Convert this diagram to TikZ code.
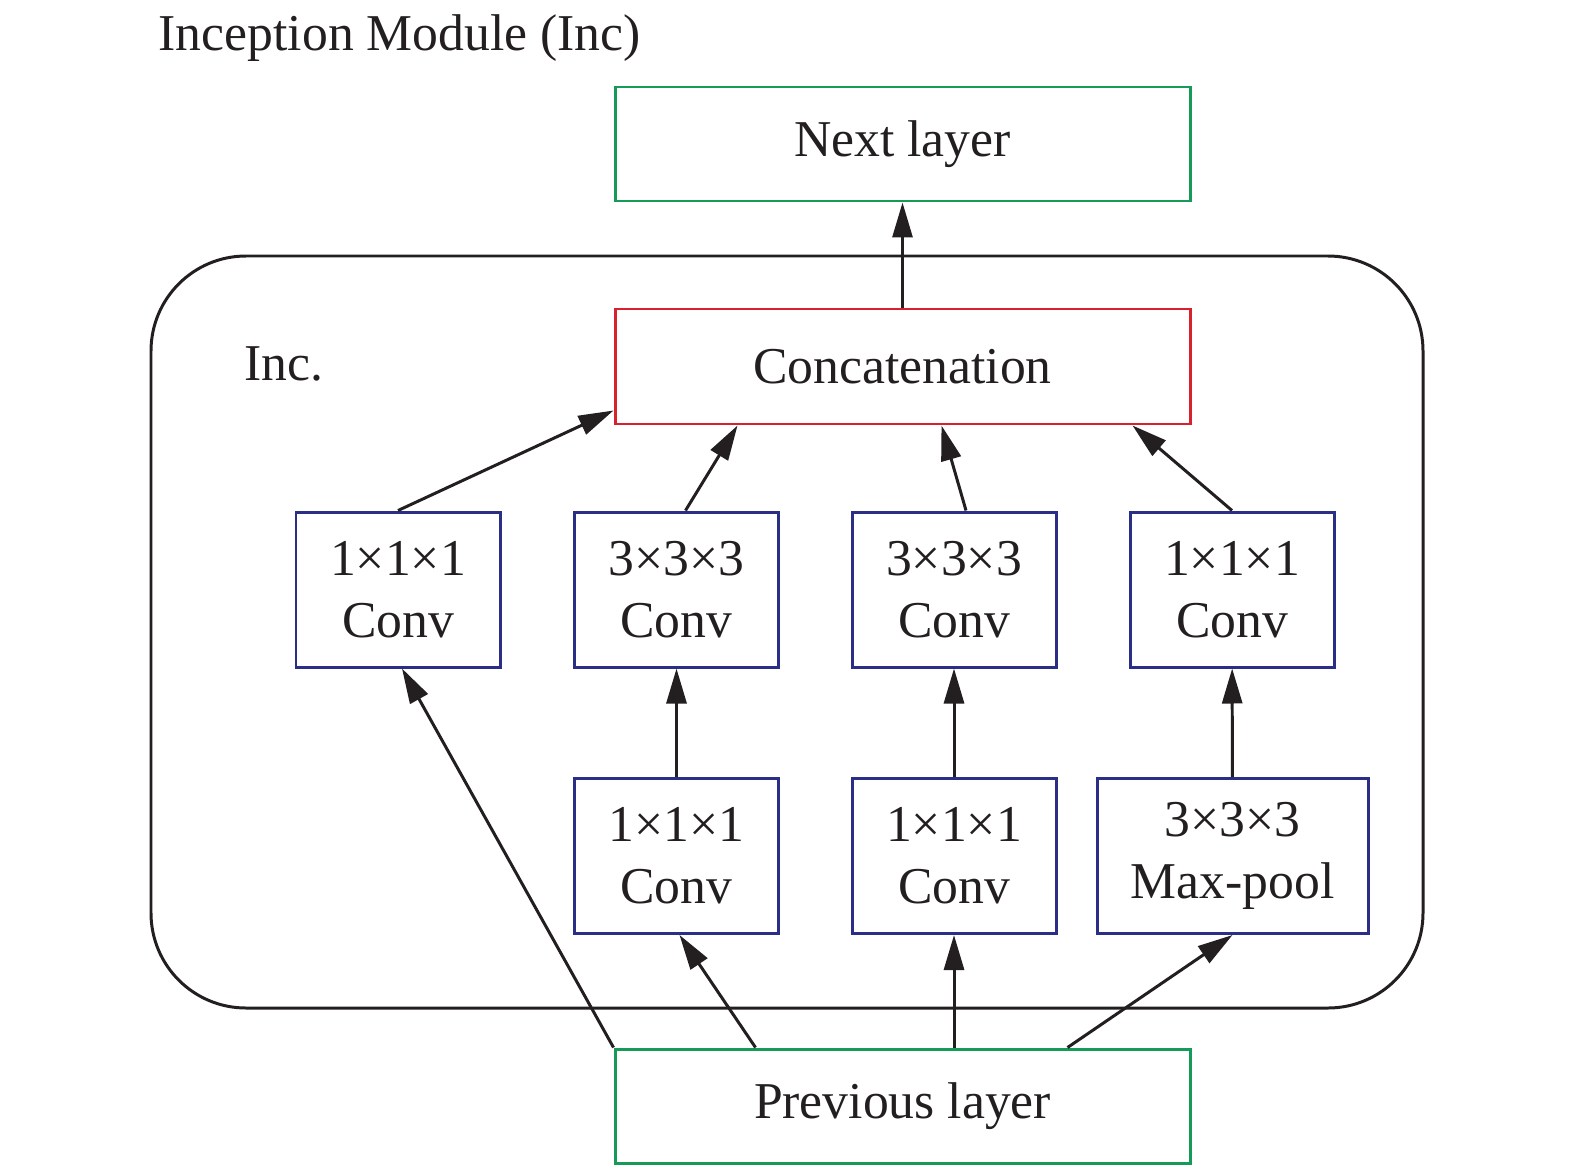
\documentclass[tikz,border=0pt]{standalone}
\usepackage{fontspec}
\setmainfont{Liberation Serif}
\usepackage{tikz}
\usetikzlibrary{arrows.meta,positioning,calc}
\definecolor{IncGreen}{HTML}{159A57}
\definecolor{IncRed}{HTML}{D9212E}
\definecolor{IncBlue}{HTML}{2A2F85}
\definecolor{IncBlack}{HTML}{231F20}
\tikzset{
  layer/.style={draw=IncGreen, line width=0.85pt, align=center,
    minimum width=57.5mm, minimum height=11.4mm, inner sep=0pt},
  concat/.style={draw=IncRed, line width=0.85pt, align=center,
    minimum width=57.5mm, minimum height=11.5mm, inner sep=0pt},
  conv/.style={draw=IncBlue, line width=0.85pt, align=center,
    minimum width=20.4mm, minimum height=15.5mm, inner sep=0pt},
  pool/.style={conv, minimum width=27.1mm},
  module/.style={draw=IncBlack, line width=0.85pt, rounded corners=9.5mm},
  wire/.style={-{Triangle[length=3.5mm, width=2mm]}, line width=0.85pt, draw=IncBlack},
  every node/.style={font=\fontsize{14.7}{17.7}\selectfont, text=IncBlack}
}
\begin{document}
\begin{tikzpicture}[x=0.1mm, y=-0.1mm]
  \useasboundingbox (0,0) rectangle (1575,1168);
  \node[anchor=base west, inner sep=0pt] (title) at (158,50) {Inception Module (Inc)};
  % module frame
  \draw[module] (151,256) rectangle (1423,1008);
  \node[anchor=west, inner sep=0pt] (inc) at (244,364) {Inc.};
  % layers
  \node[layer] (next) at (902.5,144) {Next layer};
  \node[concat] (cat) at (902.5,366.5) {Concatenation};
  \node[layer] (prev) at (902.5,1106) {Previous layer};
  % branches
  \node[conv] (b1) at (398,589.5) {1×1×1\\Conv};
  \node[conv] (b2) at (676.5,589.5) {3×3×3\\Conv};
  \node[conv] (b3) at (954,589.5) {3×3×3\\Conv};
  \node[conv] (b4) at (1232,589.5) {1×1×1\\Conv};
  \node[conv] (r2) at (676.5,856) {1×1×1\\Conv};
  \node[conv] (r3) at (954,856) {1×1×1\\Conv};
  \node[pool] (mp) at (1232.5,856) {3×3×3\\Max-pool};
  % connectors
  \draw[wire] (cat) -- (next);
  \draw[wire] (b1.north) -- ($(cat.south west)+(0,-15)$);
  \draw[wire] ($(b2.north)+(9,0)$) -- ($(cat.south)+(-165,0)$);
  \draw[wire] ($(b3.north)+(12,0)$) -- ($(cat.south)+(39,0)$);
  \draw[wire] (b4.north) -- ($(cat.south)+(230,0)$);
  \draw[wire] (r2) -- (b2);
  \draw[wire] (r3) -- (b3);
  \draw[wire] (mp) -- (b4);
  \draw[wire] (prev.north west) -- ($(b1.south)+(4,0)$);
  \draw[wire] ($(prev.north)+(-147,0)$) -- ($(r2.south)+(3,0)$);
  \draw[wire] (r3.south |- prev.north) -- (r3.south);
  \draw[wire] ($(prev.north)+(165,0)$) -- (mp.south);
\end{tikzpicture}
\end{document}
